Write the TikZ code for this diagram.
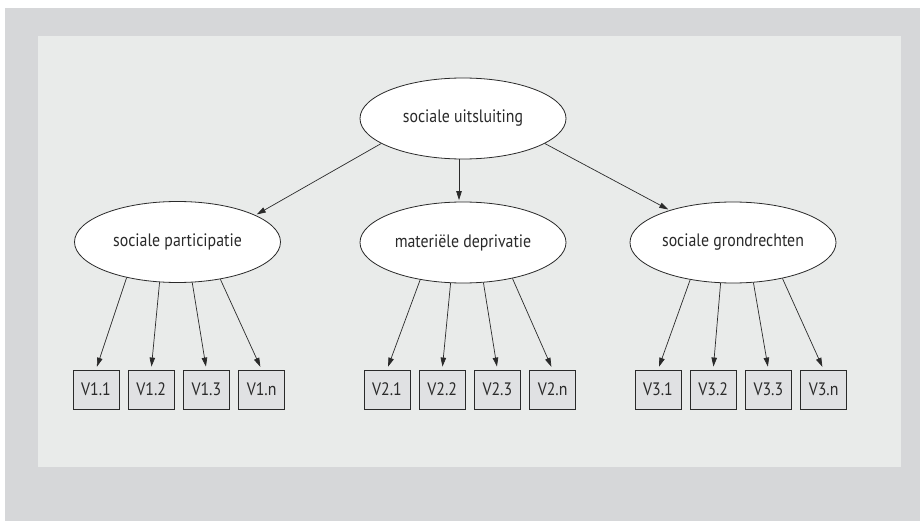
\documentclass[tikz,border=0pt]{standalone}
\usepackage{fontspec}
\setmainfont[FakeStretch=0.88]{PT Sans}
\usetikzlibrary{shapes.geometric, positioning, arrows.meta}
\definecolor{outergray}{HTML}{D6D7D9}
\definecolor{innergray}{HTML}{E9EBEA}
\definecolor{boxgray}{HTML}{E0E1E3}
\definecolor{inkgray}{HTML}{2A2A2A}

\begin{document}
\begin{tikzpicture}[x=1pt, y=-1pt,
  font=\fontsize{18}{21}\selectfont,
  latent/.style={ellipse, draw=inkgray, fill=white, line width=0.8pt,
    minimum width=206pt, minimum height=81pt, inner sep=0pt, text=inkgray},
  indicator/.style={rectangle, draw=inkgray, fill=boxgray, line width=0.9pt,
    minimum width=46pt, minimum height=39pt, inner sep=0pt, text=inkgray},
  link/.style={draw=inkgray, line width=0.7pt, shorten >=1.5pt,
    -{Triangle[length=9pt,width=5.5pt]}}]
\useasboundingbox (0,0) rectangle (920,521);
\fill[outergray] (5,8) rectangle (920,521);
\fill[innergray] (38,36) rectangle (901,467);

% latent constructs
\node[latent] (uitsluiting) at (463,118.5) {sociale uitsluiting};
\node[latent] (participatie) at (177.5,242) {sociale participatie};
\node[latent] (deprivatie) at (463,242.5) {materiële deprivatie};
\node[latent] (grondrechten) at (733,242.5) {sociale grondrechten};

% indicators
\foreach \g/\x in {1/96, 2/387, 3/658} {
  \node[indicator] (v\g-1) at (\x,389.5) {V\g.1};
  \node[indicator, right=8.3pt of v\g-1] (v\g-2) {V\g.2};
  \node[indicator, right=8.3pt of v\g-2] (v\g-3) {V\g.3};
  \node[indicator, right=8.3pt of v\g-3] (v\g-4) {V\g.n};
}

\draw[link] (uitsluiting.197) -- (participatie.19);
\draw[link] ([xshift=-4pt]uitsluiting.south) -- ([xshift=-4pt]deprivatie.north);
\draw[link] (uitsluiting.343) -- (grondrechten.153);

\foreach \a [count=\k] in {215,246,290,319}
  \draw[link, shorten >=3pt] (participatie.\a) -- (v1-\k.north);
\foreach \a [count=\k] in {221,253,297,324}
  \draw[link, shorten >=3pt] (deprivatie.\a) -- (v2-\k.north);
\foreach \a [count=\k] in {221,253,297,324}
  \draw[link, shorten >=3pt] (grondrechten.\a) -- (v3-\k.north);
\end{tikzpicture}
\end{document}
